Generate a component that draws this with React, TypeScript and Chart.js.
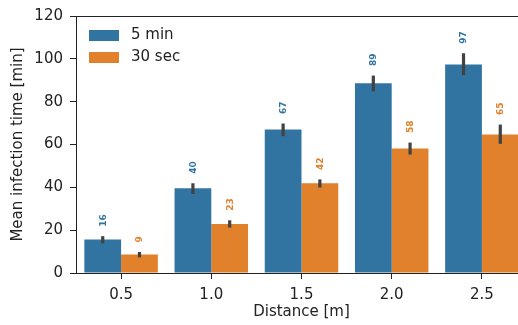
import React, { useEffect, useRef } from "react";
import { Chart, registerables } from "chart.js";

Chart.register(...registerables);

const categories = ["0.5", "1.0", "1.5", "2.0", "2.5"];
const seriesNames = ["5 min", "30 sec"];
const fiveMinMean = [15.6, 39.6, 67.0, 88.6, 97.4];
const fiveMinLow = [13.8, 36.9, 63.9, 84.8, 92.4];
const fiveMinHigh = [17.2, 41.9, 69.8, 92.2, 102.6];
const thirtySecMean = [8.6, 22.9, 41.9, 58.1, 64.7];
const thirtySecLow = [7.3, 21.2, 39.9, 55.3, 60.3];
const thirtySecHigh = [9.8, 24.6, 43.7, 60.9, 69.3];
const yTicks = [0, 20, 40, 60, 80, 100, 120];

const colors = ["#3274a1", "#e1812c"];
const errColor = "#424242";
const textColor = "#222222";
const FONT = "'DejaVu Sans', sans-serif";

const lows = [fiveMinLow, thirtySecLow];
const highs = [fiveMinHigh, thirtySecHigh];
const means = [fiveMinMean, thirtySecMean];

const overlayPlugin = {
  id: "overlay",
  afterDatasetsDraw(chart: any) {
    const ctx = chart.ctx;
    const yScale = chart.scales.y;
    const area = chart.chartArea;
    ctx.save();
    // error bars and value labels
    for (let d = 0; d < 2; d++) {
      const meta = chart.getDatasetMeta(d);
      meta.data.forEach((bar: any, i: number) => {
        const x = bar.x;
        const yLo = yScale.getPixelForValue(lows[d][i]);
        const yHi = yScale.getPixelForValue(highs[d][i]);
        ctx.strokeStyle = errColor;
        ctx.lineWidth = 3.2;
        ctx.lineCap = "butt";
        ctx.beginPath();
        ctx.moveTo(x, yLo);
        ctx.lineTo(x, yHi);
        ctx.stroke();
        ctx.save();
        ctx.translate(x, yHi - 9.5);
        ctx.rotate(-Math.PI / 2);
        ctx.fillStyle = colors[d];
        ctx.font = "bold 9px " + FONT;
        ctx.textAlign = "left";
        ctx.textBaseline = "middle";
        ctx.fillText(Math.round(means[d][i]).toString(), 0, 0.5);
        ctx.restore();
      });
    }
    // top and right spines
    ctx.strokeStyle = textColor;
    ctx.lineWidth = 1;
    ctx.beginPath();
    ctx.moveTo(area.left, Math.round(area.top) + 0.5);
    ctx.lineTo(area.right, Math.round(area.top) + 0.5);
    ctx.moveTo(Math.round(area.right) + 0.5, area.top);
    ctx.lineTo(Math.round(area.right) + 0.5, area.bottom);
    ctx.stroke();
    // legend
    ctx.font = "15px " + FONT;
    ctx.textAlign = "left";
    ctx.textBaseline = "middle";
    for (let d = 0; d < 2; d++) {
      const top = area.top + 14 + d * 22;
      ctx.fillStyle = colors[d];
      ctx.fillRect(area.left + 13, top, 30, 11);
      ctx.fillStyle = textColor;
      ctx.fillText(seriesNames[d], area.left + 55, top + 5.5);
    }
    ctx.restore();
  },
};

export default function App() {
  const canvasRef = useRef<HTMLCanvasElement>(null);

  useEffect(() => {
    if (!canvasRef.current) return;
    const chart = new Chart(canvasRef.current, {
      type: "bar",
      data: {
        labels: categories,
        datasets: [
          {
            label: seriesNames[0],
            data: fiveMinMean,
            backgroundColor: colors[0],
            borderWidth: 0,
            categoryPercentage: 0.815,
            barPercentage: 1.0,
          },
          {
            label: seriesNames[1],
            data: thirtySecMean,
            backgroundColor: colors[1],
            borderWidth: 0,
            categoryPercentage: 0.815,
            barPercentage: 1.0,
          },
        ],
      },
      options: {
        responsive: false,
        animation: false,
        devicePixelRatio: 1,
        layout: { padding: { top: 15, right: 13, left: 0, bottom: 0 } },
        plugins: {
          legend: { display: false },
          tooltip: { enabled: false },
        },
        scales: {
          x: {
            afterFit: (scale: any) => {
              scale.height = 52;
            },
            grid: {
              display: true,
              drawOnChartArea: false,
              drawTicks: true,
              tickLength: 6,
              offset: false,
              color: textColor,
            },
            border: { display: true, color: textColor, width: 1 },
            ticks: {
              color: textColor,
              font: { family: FONT, size: 15 },
              padding: 7,
            },
            title: {
              display: true,
              text: "Distance [m]",
              color: textColor,
              font: { family: FONT, size: 15 },
              padding: { top: 0, bottom: 3.5 },
            },
          },
          y: {
            min: 0,
            max: 120,
            afterFit: (scale: any) => {
              scale.width = 76;
            },
            afterBuildTicks: (scale: any) => {
              scale.ticks = yTicks.map((v) => ({ value: v }));
            },
            grid: {
              display: true,
              drawOnChartArea: false,
              drawTicks: true,
              tickLength: 6,
              color: textColor,
            },
            border: { display: true, color: textColor, width: 1 },
            ticks: {
              color: textColor,
              font: { family: FONT, size: 15 },
              padding: 7,
            },
            title: {
              display: true,
              text: "Mean infection time [min]",
              color: textColor,
              font: { family: FONT, size: 15 },
              padding: { top: 9, bottom: 0 },
            },
          },
        },
      },
      plugins: [overlayPlugin],
    });
    return () => chart.destroy();
  }, []);

  return (
    <div
      style={{
        position: "fixed",
        left: 0,
        top: 0,
        width: 518,
        height: 325,
        overflow: "hidden",
        background: "#fff",
      }}
    >
      <canvas ref={canvasRef} width={540} height={325} style={{ display: "block" }} />
    </div>
  );
}
